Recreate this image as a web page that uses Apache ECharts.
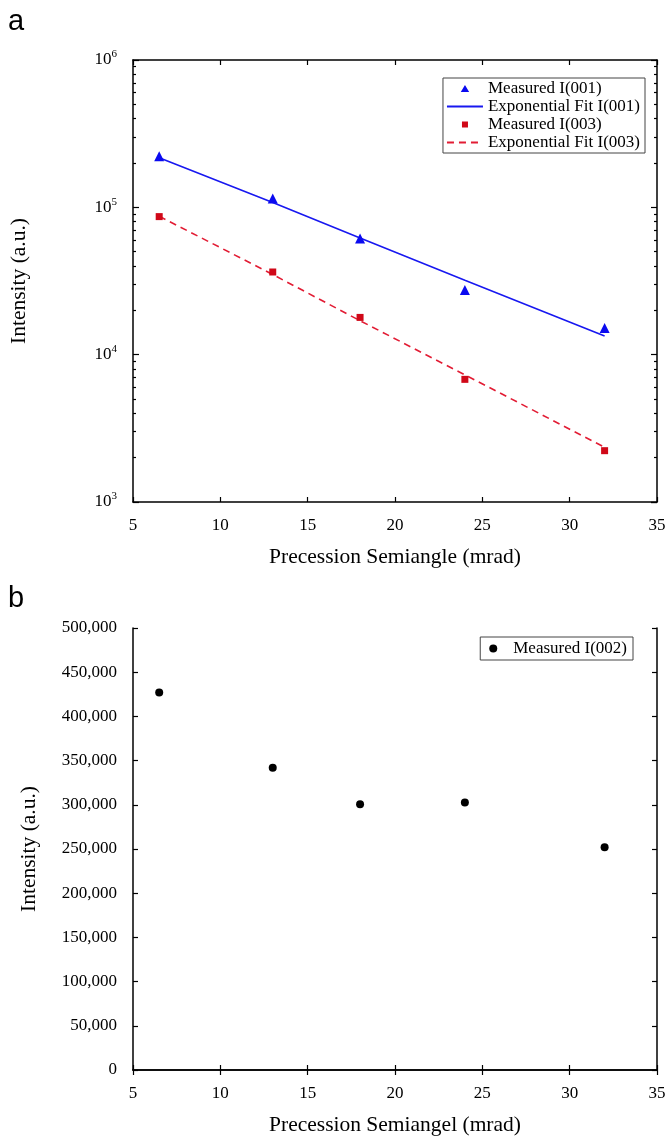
<!DOCTYPE html>
<html>
<head>
<meta charset="utf-8">
<script src="https://cdn.jsdelivr.net/npm/echarts@6/dist/echarts.min.js"></script>
<style>
html,body{margin:0;padding:0;background:#fff;}
#c{width:671px;height:1138px;}
</style>
</head>
<body>
<div id="c"></div>
<script>
// ---- data ----
const xs = [6.5, 13, 18, 24, 32];
const measured001 = [222000, 115000, 61500, 27500, 15200];
const fit001 = [217000, 108000, 62000, 32000, 13400];
const measured003 = [86500, 36400, 17900, 6800, 2230];
const fit003 = [87000, 35000, 17000, 7300, 2350];
const measured002 = [427000, 342000, 300500, 302500, 252000];

const names = ['Measured I(001)', 'Exponential Fit I(001)', 'Measured I(003)', 'Exponential Fit I(003)'];
const name002 = 'Measured I(002)';
const xTitleA = 'Precession Semiangle (mrad)';
const xTitleB = 'Precession Semiangel (mrad)';
const yTitle = 'Intensity (a.u.)';

// minor tick positions of the log axis (2..9 in each decade)
const decades = [1000, 10000, 100000];
const minorMult = [2, 3, 4, 5, 6, 7, 8, 9];
const logMinor = [];
decades.forEach(d => minorMult.forEach(m => logMinor.push(d * m)));

const pairs = (a, b) => a.map((v, i) => [v, b[i]]);

const FONT = 'Liberation Serif';
const axisLineStyle = { color: '#000', width: 1.5 };
const tickStyle = { color: '#000', width: 1.2 };

// legend icons: small symbol centred in a 36x8 box (tiny invisible corner marks fix the box)
const CORNERS = 'M0,0L0.01,0L0,0.01Z M36,8L35.99,8L36,7.99Z ';
const ICON_TRI = 'path://' + CORNERS + 'M13.8,7.6L22.2,7.6L18,0.4Z';
const ICON_SQ = 'path://' + CORNERS + 'M15,1L21,1L21,7L15,7Z';

const chart = echarts.init(document.getElementById('c'), null, { renderer: 'canvas' });

function xMain(grid, title) {
  return {
    type: 'value', gridIndex: grid, min: 5, max: 35, interval: 5, position: 'bottom',
    axisLine: { show: true, lineStyle: axisLineStyle },
    axisTick: { show: true, inside: true, length: 5, lineStyle: tickStyle },
    axisLabel: { show: true, margin: 15, color: '#000', fontFamily: FONT, fontSize: 17 },
    splitLine: { show: false },
    name: title, nameLocation: 'middle', nameGap: 44,
    nameTextStyle: { color: '#000', fontFamily: FONT, fontSize: 21.5 }
  };
}
function xMirror(grid) {
  return {
    type: 'value', gridIndex: grid, min: 5, max: 35, interval: 5, position: 'top',
    axisLine: { show: true, lineStyle: axisLineStyle },
    axisTick: { show: true, inside: true, length: 5, lineStyle: tickStyle },
    axisLabel: { show: false }, splitLine: { show: false }
  };
}

const lineLegendItem = n => ({ name: n, itemStyle: { opacity: 0 } });

const option = {
  animation: false,
  backgroundColor: '#fff',
  textStyle: { fontFamily: FONT },
  grid: [
    { left: 133, top: 60, width: 524, height: 442 },
    { left: 133, top: 628, width: 524, height: 442 }
  ],
  graphic: [
    { type: 'text', left: 8, top: 7, style: { text: 'a', fontFamily: 'Liberation Sans', fontSize: 29, fill: '#000' } },
    { type: 'text', left: 8, top: 584, style: { text: 'b', fontFamily: 'Liberation Sans', fontSize: 29, fill: '#000' } }
  ],
  legend: [
    {
      data: [
        { name: names[0], icon: ICON_TRI },
        lineLegendItem(names[1]),
        { name: names[2], icon: ICON_SQ },
        lineLegendItem(names[3])
      ],
      orient: 'vertical', right: 26, top: 78,
      selectedMode: false, backgroundColor: '#fff',
      borderColor: '#444', borderWidth: 1, borderRadius: 0,
      padding: [2, 5, 2, 3], itemGap: 1, itemWidth: 36, itemHeight: 8,
      textStyle: { fontFamily: FONT, fontSize: 17, lineHeight: 17, color: '#000' }
    },
    {
      data: [{ name: name002, icon: 'circle' }],
      orient: 'vertical', right: 38, top: 637,
      selectedMode: false, backgroundColor: '#fff',
      borderColor: '#444', borderWidth: 1, borderRadius: 0,
      padding: [3, 6, 3, 9], itemWidth: 30, itemHeight: 8,
      textStyle: { fontFamily: FONT, fontSize: 17, lineHeight: 17, color: '#000' }
    }
  ],
  xAxis: [xMain(0, xTitleA), xMirror(0), xMain(1, xTitleB), xMirror(1)],
  yAxis: [
    { // 0: log left major
      type: 'log', logBase: 10, gridIndex: 0, min: 1000, max: 1000000, position: 'left',
      axisLine: { show: true, lineStyle: axisLineStyle },
      axisTick: { show: true, inside: true, length: 6, lineStyle: tickStyle },
      axisLabel: {
        show: true, margin: 16, color: '#000',
        formatter: v => '{b|10}{s|' + Math.round(Math.log10(v)) + '}',
        rich: {
          b: { fontFamily: FONT, fontSize: 17, lineHeight: 22, color: '#000' },
          s: { fontFamily: FONT, fontSize: 11, lineHeight: 11, verticalAlign: 'top', color: '#000' }
        }
      },
      splitLine: { show: false },
      name: yTitle, nameLocation: 'middle', nameGap: 103,
      nameTextStyle: { color: '#000', fontFamily: FONT, fontSize: 21.5 }
    },
    { // 1: log right major
      type: 'log', logBase: 10, gridIndex: 0, min: 1000, max: 1000000, position: 'right',
      axisLine: { show: true, lineStyle: axisLineStyle },
      axisTick: { show: true, inside: true, length: 6, lineStyle: tickStyle },
      axisLabel: { show: false }, splitLine: { show: false }
    },
    { // 2: log left minor
      type: 'log', logBase: 10, gridIndex: 0, min: 1000, max: 1000000, position: 'left',
      axisLine: { show: false },
      axisTick: { show: true, inside: true, length: 3, lineStyle: tickStyle, customValues: logMinor },
      axisLabel: { show: false }, splitLine: { show: false }
    },
    { // 3: log right minor
      type: 'log', logBase: 10, gridIndex: 0, min: 1000, max: 1000000, position: 'right',
      axisLine: { show: false },
      axisTick: { show: true, inside: true, length: 3, lineStyle: tickStyle, customValues: logMinor },
      axisLabel: { show: false }, splitLine: { show: false }
    },
    { // 4: linear left
      type: 'value', gridIndex: 1, min: 0, max: 500000, interval: 50000, position: 'left',
      axisLine: { show: true, lineStyle: axisLineStyle },
      axisTick: { show: true, inside: true, length: 5, lineStyle: tickStyle },
      axisLabel: {
        show: true, margin: 16, color: '#000', fontFamily: FONT, fontSize: 17,
        formatter: v => String(v).replace(/\B(?=(\d{3})+(?!\d))/g, ',')
      },
      splitLine: { show: false },
      name: yTitle, nameLocation: 'middle', nameGap: 93,
      nameTextStyle: { color: '#000', fontFamily: FONT, fontSize: 21.5 }
    },
    { // 5: linear right
      type: 'value', gridIndex: 1, min: 0, max: 500000, interval: 50000, position: 'right',
      axisLine: { show: true, lineStyle: axisLineStyle },
      axisTick: { show: true, inside: true, length: 5, lineStyle: tickStyle },
      axisLabel: { show: false }, splitLine: { show: false }
    }
  ],
  series: [
    {
      name: names[0], type: 'scatter', xAxisIndex: 0, yAxisIndex: 0,
      symbol: 'triangle', symbolSize: 10, itemStyle: { color: '#0a0af0', opacity: 1 }, z: 5,
      data: pairs(xs, measured001)
    },
    {
      name: names[1], type: 'line', xAxisIndex: 0, yAxisIndex: 0,
      symbol: 'none', lineStyle: { color: '#1818f0', width: 1.6, type: 'solid' },
      itemStyle: { color: '#1818f0' },
      data: pairs(xs, fit001)
    },
    {
      name: names[2], type: 'scatter', xAxisIndex: 0, yAxisIndex: 0,
      symbol: 'rect', symbolSize: 7, itemStyle: { color: '#d00818', opacity: 1 }, z: 5,
      data: pairs(xs, measured003)
    },
    {
      name: names[3], type: 'line', xAxisIndex: 0, yAxisIndex: 0,
      symbol: 'none', lineStyle: { color: '#e21c34', width: 1.6, type: [7, 5] },
      itemStyle: { color: '#e21c34' },
      data: pairs(xs, fit003)
    },
    {
      name: name002, type: 'scatter', xAxisIndex: 2, yAxisIndex: 4,
      symbol: 'circle', symbolSize: 8, itemStyle: { color: '#000', opacity: 1 },
      data: pairs(xs, measured002)
    }
  ]
};
chart.setOption(option);
</script>
</body>
</html>
